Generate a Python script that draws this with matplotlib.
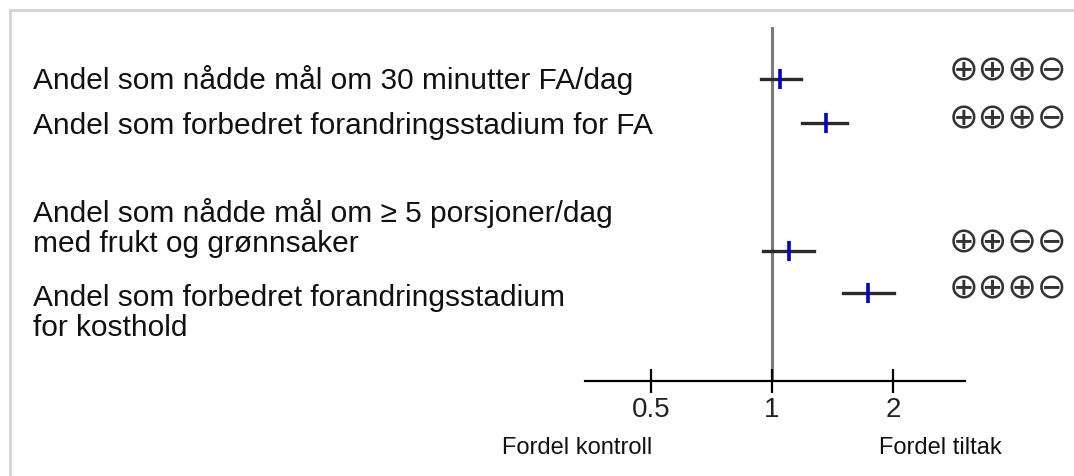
import matplotlib
matplotlib.use("Agg")
import matplotlib.pyplot as plt
from matplotlib.lines import Line2D

# data (ratio estimates, log scale)
labels = ["Andel som nådde mål om 30 minutter FA/dag",
          "Andel som forbedret forandringsstadium for FA",
          "Andel som nådde mål om ≥ 5 porsjoner/dag\nmed frukt og grønnsaker",
          "Andel som forbedret forandringsstadium\nfor kosthold"]
estimate = [1.05, 1.36, 1.10, 1.73]
ci_low = [0.94, 1.19, 0.95, 1.50]
ci_high = [1.18, 1.54, 1.27, 2.01]
grade = ["⊕⊕⊕⊖", "⊕⊕⊕⊖", "⊕⊕⊖⊖", "⊕⊕⊕⊖"]
tick_vals = [0.5, 1, 2]
tick_labels = ["0.5", "1", "2"]

# layout (pixel rows)
W, H = 1074, 477
row_y = [80, 124, 252, 294]
label_y = [80, 126, 228, 313]
grade_y = [70, 118, 242, 288]

plt.rcParams['font.family'] = ['Liberation Sans', 'DejaVu Sans']
fig = plt.figure(figsize=(W / 100, H / 100), dpi=100)

def fx(x):
    return x / W

def fy(y):
    return 1 - y / H

# thin grey frame of the original picture
fig.add_artist(Line2D([fx(10), 1], [fy(11), fy(11)], color="#d4d4d4", lw=2))
fig.add_artist(Line2D([fx(10), fx(10)], [fy(11), 0], color="#d4d4d4", lw=2))

ax = fig.add_axes([fx(585), fy(382), (965 - 585) / W, (382 - 28) / H])
ax.set_xscale("log")
ax.set_xlim(0.343, 3.02)
ax.set_ylim(382, 28)
for s in ["top", "left", "right"]:
    ax.spines[s].set_visible(False)
ax.spines["bottom"].set_linewidth(1.6)
ax.set_yticks([])
ax.xaxis.set_minor_locator(matplotlib.ticker.NullLocator())
ax.set_xticks(tick_vals)
ax.set_xticklabels(tick_labels, fontsize=20, color="#222222")
ax.tick_params(axis="x", direction="inout", length=17, width=1.6, pad=2)

ax.axvline(1, color="#7a7a7a", lw=2.2, zorder=1)
for i in range(len(estimate)):
    ax.plot([ci_low[i], ci_high[i]], [row_y[i], row_y[i]], color="#2a2a2a", lw=2.4, zorder=2)
    ax.plot(estimate[i], row_y[i], marker="|", color="#0000cc", markersize=15,
            markeredgewidth=2.6, zorder=3)

for i, lab in enumerate(labels):
    fig.text(fx(33), fy(label_y[i]), lab, fontsize=21.5, va="center", ha="left",
             color="#111111", linespacing=1.12)
    fig.text(fx(1008), fy(grade_y[i]), grade[i], fontsize=25.5, va="center", ha="center",
             family="DejaVu Sans", color="#333333")

fig.text(fx(577), fy(448), "Fordel kontroll", fontsize=17, ha="center", va="center", color="#111111")
fig.text(fx(940), fy(448), "Fordel tiltak", fontsize=17, ha="center", va="center", color="#111111")

fig.savefig("out.png", dpi=100, facecolor="white")
